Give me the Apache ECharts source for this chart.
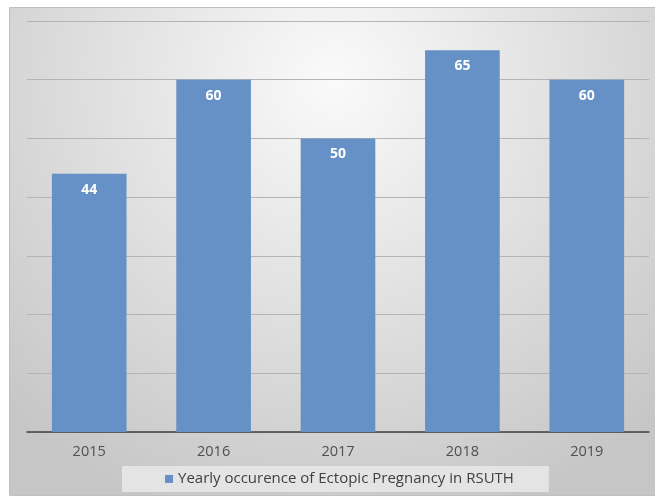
<!DOCTYPE html>
<html><head><meta charset="utf-8">
<script src="https://cdn.jsdelivr.net/npm/echarts@6/dist/echarts.min.js"></script>
<style>html,body{margin:0;padding:0;background:#fff}#c{width:655px;height:500px}</style>
</head><body><div id="c"></div>
<script>
var categories = ['2015', '2016', '2017', '2018', '2019'];
var values = [44, 60, 50, 65, 60];
var seriesName = 'Yearly occurence of Ectopic Pregnancy in RSUTH';

var chart = echarts.init(document.getElementById('c'));
chart.setOption({
  animation: false,
  backgroundColor: '#ffffff',
  textStyle: { fontFamily: 'Open Sans' },
  graphic: [{
    type: 'rect', z: -10, silent: true,
    shape: { x: 9.5, y: 7.5, width: 650, height: 488 },
    style: {
      fill: { type: 'radial', x: 0.5, y: 0.15, r: 0.95,
        colorStops: [{ offset: 0, color: '#fafafa' }, { offset: 1, color: '#c6c6c6' }] },
      stroke: '#c0c0c0', lineWidth: 1
    }
  }],
  grid: { left: 27, right: 6, top: 21, bottom: 68 },
  legend: {
    bottom: 8, left: 122,
    backgroundColor: '#e4e4e4',
    padding: [5, 35, 5, 43],
    itemWidth: 8, itemHeight: 8, itemGap: 4,
    icon: 'rect',
    textStyle: { color: '#404040', fontSize: 15, lineHeight: 16, fontFamily: 'Open Sans' },
    data: [seriesName]
  },
  xAxis: {
    type: 'category', data: categories,
    axisLine: { lineStyle: { color: '#404040', width: 1.5 } },
    axisTick: { show: false },
    axisLabel: { color: '#505050', fontSize: 14.5, margin: 12 }
  },
  yAxis: {
    type: 'value', min: 0, max: 70, interval: 10,
    axisLabel: { show: false }, axisLine: { show: false }, axisTick: { show: false },
    splitLine: { lineStyle: { color: '#b4b4b4', width: 1 } }
  },
  series: [{
    name: seriesName, type: 'bar', data: values,
    barCategoryGap: '40%',
    itemStyle: { color: '#6591c6' },
    label: { show: true, position: 'insideTop', distance: 9, color: '#ffffff', fontWeight: 'bold', fontSize: 14 }
  }]
});
</script></body></html>
